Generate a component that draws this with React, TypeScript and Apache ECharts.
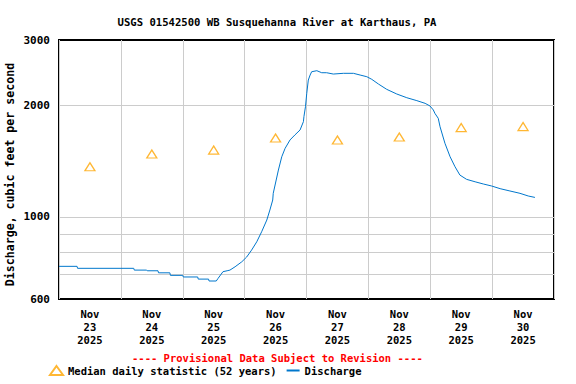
import React, { useEffect, useRef } from "react";
import * as echarts from "echarts";

// ---- Data (hours since Nov 23 2025 00:00, discharge in cfs) ----
const dischargeHours = [
  0, 7, 7.2, 29, 29.2, 34, 34.2, 38.4, 38.6, 43, 43.2, 48, 48.2, 53.8, 54, 58, 58.2, 61,
  61.7, 63.6, 65.2, 66.3, 68.3, 70.9, 72.8, 74.7, 76.7, 78.6, 80.6, 81.8, 82.9, 83.1,
  85.1, 86.4, 87.7, 89.6, 91.5, 93.5, 94.8, 95.0, 95.6, 96.1, 96.7, 97.4, 98.0, 100.0,
  101.9, 103.8, 106.4, 110.3, 114.2, 116.8, 119.4, 121.3, 123.9, 127.1, 131.0, 134.9,
  138.8, 142.0, 143.9, 145.2, 145.8, 147.1, 147.8, 149.7, 151.7, 153.6, 155.5, 158.1,
  161.4, 164.6, 167.8, 171.1, 174.9, 178.8, 182.0, 184.6,
];
const dischargeCfs = [
  735, 735, 726, 726, 718, 718, 715, 715, 706, 706, 695, 695, 688, 688, 679, 679, 671, 671,
  682, 711, 715, 718, 733, 756, 779, 813, 856, 911, 980, 1043, 1110, 1157,
  1337, 1452, 1530, 1612, 1663, 1715, 1806, 1863, 1982, 2154, 2339, 2413, 2463, 2479,
  2448, 2448, 2428, 2439, 2439, 2413, 2388, 2350, 2282, 2208, 2145, 2096,
  2058, 2024, 1991, 1942, 1902, 1844, 1750, 1579, 1452, 1365, 1296, 1262,
  1243, 1226, 1211, 1191, 1174, 1157, 1138, 1128,
];

const medianHours = [12, 36, 60, 84, 108, 132, 156, 180];
const medianCfs = [1365, 1477, 1514, 1632, 1612, 1642, 1741, 1752];

const xMonths = ["Nov", "Nov", "Nov", "Nov", "Nov", "Nov", "Nov", "Nov"];
const xDays = ["23", "24", "25", "26", "27", "28", "29", "30"];
const xYears = ["2025", "2025", "2025", "2025", "2025", "2025", "2025", "2025"];

const yLabelValues = [600, 1000, 2000, 3000];
const yGridValues = [700, 800, 900, 1000, 2000];

const FONT = "DejaVu Sans Mono";

export default function App() {
  const ref = useRef<HTMLDivElement>(null);

  useEffect(() => {
    if (!ref.current) return;
    const chart = echarts.init(ref.current, null, { renderer: "svg" });

    const categories = xDays.map((d, i) => `${xMonths[i]}\n${d}\n${xYears[i]}`);

    const allY = Array.from(new Set([...yLabelValues, ...yGridValues])).sort((a, b) => a - b);
    const markData = allY.map((v) => {
      const isGrid = yGridValues.includes(v);
      const hasLabel = yLabelValues.includes(v);
      return {
        yAxis: v,
        lineStyle: {
          color: isGrid ? "#cccccc" : "rgba(0,0,0,0)",
          width: 1,
          type: "solid",
        },
        label: {
          show: hasLabel,
          position: "start",
          distance: 9,
          formatter: String(v),
          color: "#000",
          opacity: 1,
          fontFamily: FONT,
          fontWeight: "bold",
          fontSize: 11,
        },
      };
    });

    const labelStyle = { color: "#000", fontFamily: FONT, fontWeight: "bold", fontSize: 11 };

    chart.setOption({
      animation: false,
      backgroundColor: "#fff",
      textStyle: { fontFamily: FONT },
      title: {
        text: "USGS 01542500 WB Susquehanna River at Karthaus, PA",
        left: 272,
        top: 11,
        textAlign: "center",
        textStyle: { ...labelStyle, fontSize: 10.6 },
      },
      grid: {
        left: 59,
        top: 40,
        right: 22,
        bottom: 85,
        containLabel: false,
        outerBoundsMode: "none",
        show: true,
        borderColor: "#000",
        borderWidth: 2,
        backgroundColor: "transparent",
      },
      xAxis: [
        {
          type: "value",
          min: 0,
          max: 192,
          interval: 24,
          axisLabel: { show: false },
          axisTick: { show: false },
          axisLine: { show: false },
          splitLine: { show: true, lineStyle: { color: "#cccccc", width: 1 } },
        },
        {
          type: "category",
          position: "bottom",
          data: categories,
          boundaryGap: true,
          axisTick: { show: false },
          axisLine: { show: false },
          splitLine: { show: false },
          axisLabel: { ...labelStyle, fontSize: 10.5, lineHeight: 13, margin: 8, interval: 0 },
        },
      ],
      yAxis: {
        type: "log",
        logBase: 10,
        min: 600,
        max: 3000,
        axisLabel: { show: false },
        axisTick: { show: false },
        axisLine: { show: false },
        splitLine: { show: false },
        name: "Discharge, cubic feet per second",
        nameLocation: "middle",
        nameGap: 43,
        nameTextStyle: { ...labelStyle, fontSize: 11.6, padding: [0, 10, 0, 0] },
      },
      legend: {
        left: 49,
        top: 365,
        itemWidth: 13,
        itemHeight: 9,
        itemGap: 9,
        padding: 0,
        textStyle: { ...labelStyle, fontSize: 10.5 },
        data: [
          { name: "Median daily statistic (52 years)", icon: "triangle" },
          {
            name: "Discharge",
            itemStyle: { color: "rgba(0,0,0,0)", borderColor: "rgba(0,0,0,0)", borderWidth: 0 },
          },
        ],
      },
      graphic: [
        {
          type: "text",
          left: 132,
          top: 352,
          style: {
            text: "---- Provisional Data Subject to Revision ----",
            fill: "#ff0000",
            font: `bold 10.5px '${FONT}'`,
          },
        },
      ],
      series: [
        {
          name: "Discharge",
          type: "line",
          xAxisIndex: 0,
          data: dischargeHours.map((h, i) => [h, dischargeCfs[i]]),
          symbol: "none",
          showSymbol: false,
          lineStyle: { color: "#0077cc", width: 1 },
          itemStyle: { color: "#0077cc" },
          z: 3,
          markLine: {
            silent: true,
            symbol: ["none", "none"],
            z: 1,
            animation: false,
            data: markData,
          },
        },
        {
          name: "Median daily statistic (52 years)",
          type: "scatter",
          xAxisIndex: 0,
          data: medianHours.map((h, i) => [h, medianCfs[i]]),
          symbol: "triangle",
          symbolSize: [10, 8],
          itemStyle: { color: "rgba(255,255,255,0)", borderColor: "#ffa500", borderWidth: 1.3 },
          z: 4,
        },
      ],
    });

    return () => chart.dispose();
  }, []);

  return (
    <div
      ref={ref}
      style={{ position: "fixed", left: 0, top: 0, width: 576, height: 384 }}
    />
  );
}
